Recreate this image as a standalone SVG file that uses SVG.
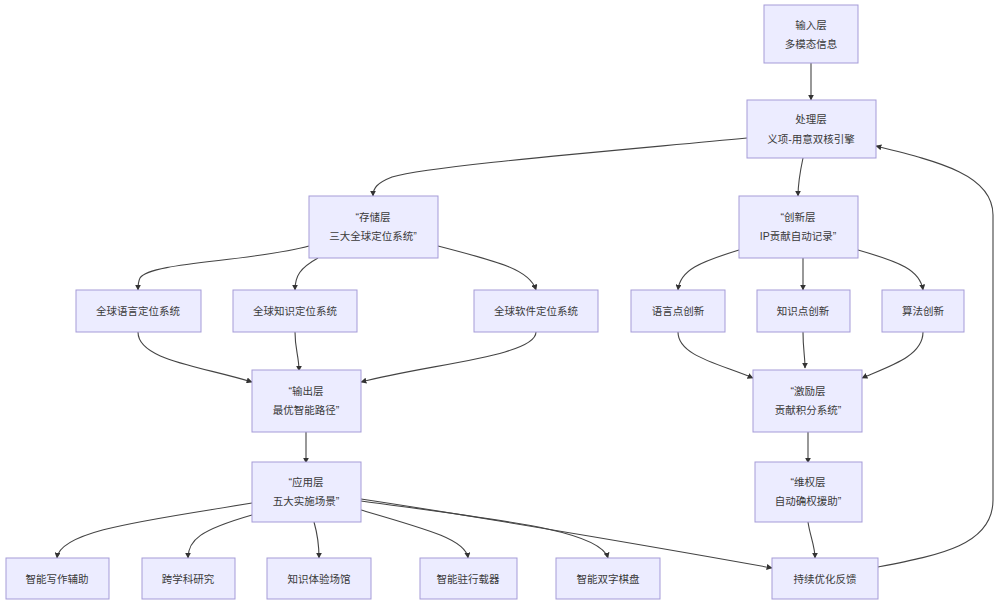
<svg xmlns="http://www.w3.org/2000/svg" width="1000" height="606" viewBox="0 0 1000 606">
<style>
.n rect{fill:#ECECFF;stroke:#a59bd8;stroke-width:1}
.n text{font-family:"Liberation Sans","Noto Sans CJK SC",sans-serif;font-size:10.5px;fill:#3a3a3a;text-anchor:middle;dominant-baseline:central}
.e path{fill:none;stroke:#444;stroke-width:1.1}
</style>
<defs>
<marker id="ah" viewBox="0 0 10 10" refX="9" refY="5" markerWidth="6" markerHeight="6" orient="auto" markerUnits="userSpaceOnUse">
<path d="M0,0 L10,5 L0,10 z" fill="#333"/>
</marker>
</defs>
<rect width="1000" height="606" fill="#fff"/>
<g class="e" marker-end="url(#ah)">
<path d="M811,63 L811,100"/>
<path d="M747,138 C600,152 430,166 392,177 C377,183 373,188 373,196"/>
<path d="M803,158 C800,172 798,184 798,196"/>
<path d="M309,246 C250,262 150,262 140,278 C138,282 138,286 138,290"/>
<path d="M318,258 C300,268 295,276 295,290"/>
<path d="M438,246 C500,262 530,270 536,290"/>
<path d="M739,250 C700,262 680,270 678,290"/>
<path d="M803,258 L803,290"/>
<path d="M858,250 C900,262 920,270 923,290"/>
<path d="M138,332 C138,360 200,366 252,382"/>
<path d="M295,332 C295,350 299,356 299,371"/>
<path d="M536,332 C536,356 430,364 361,382"/>
<path d="M678,332 C678,356 720,364 753,378"/>
<path d="M803,332 C803,350 805,356 805,368"/>
<path d="M923,332 C923,356 890,366 862,378"/>
<path d="M306,432 L306,463"/>
<path d="M808,432 L808,463"/>
<path d="M252,503 C150,520 60,530 57,558"/>
<path d="M252,515 C200,530 188,540 188,558"/>
<path d="M314,522 C318,536 319,546 319,558"/>
<path d="M361,510 C430,530 466,540 468,558"/>
<path d="M361,501 C500,520 600,530 608,558"/>
<path d="M361,499 C500,520 700,555 772,568"/>
<path d="M808,522 C810,536 815,546 815,558"/>
<path d="M878,567 C940,555 993,545 993,500 L993,215 C993,175 940,162 876,146"/>
</g>
<g id="input" class="n"><rect x="764" y="5" width="94" height="58"/><text x="811" y="25">输入层</text><text x="811" y="44">多模态信息</text></g>
<g id="process" class="n"><rect x="747" y="100" width="129" height="58"/><text x="811" y="119">处理层</text><text x="811" y="139">义项-用意双核引擎</text></g>
<g id="storage" class="n"><rect x="309" y="196" width="129" height="62"/><text x="373" y="217">“存储层</text><text x="373" y="236">三大全球定位系统”</text></g>
<g id="innov" class="n"><rect x="739" y="196" width="119" height="62"/><text x="798" y="217">“创新层</text><text x="798" y="236">IP贡献自动记录”</text></g>
<g id="gl" class="n"><rect x="76" y="290" width="125" height="42"/><text x="138" y="311">全球语言定位系统</text></g>
<g id="gk" class="n"><rect x="233" y="290" width="124" height="42"/><text x="295" y="311">全球知识定位系统</text></g>
<g id="gs" class="n"><rect x="474" y="290" width="124" height="42"/><text x="536" y="311">全球软件定位系统</text></g>
<g id="li" class="n"><rect x="631" y="290" width="94" height="42"/><text x="678" y="311">语言点创新</text></g>
<g id="ki" class="n"><rect x="757" y="290" width="93" height="42"/><text x="803" y="311">知识点创新</text></g>
<g id="ai" class="n"><rect x="882" y="290" width="82" height="42"/><text x="923" y="311">算法创新</text></g>
<g id="output" class="n"><rect x="252" y="370" width="109" height="62"/><text x="306" y="391">“输出层</text><text x="306" y="410">最优智能路径”</text></g>
<g id="incent" class="n"><rect x="753" y="370" width="109" height="62"/><text x="808" y="391">“激励层</text><text x="808" y="410">贡献积分系统”</text></g>
<g id="app" class="n"><rect x="252" y="462" width="109" height="60"/><text x="306" y="482">“应用层</text><text x="306" y="501">五大实施场景”</text></g>
<g id="rights" class="n"><rect x="755" y="462" width="107" height="60"/><text x="808" y="482">“维权层</text><text x="808" y="501">自动确权援助”</text></g>
<g id="s1" class="n"><rect x="6" y="558" width="103" height="41"/><text x="57" y="578.5">智能写作辅助</text></g>
<g id="s2" class="n"><rect x="142" y="558" width="93" height="41"/><text x="188" y="578.5">跨学科研究</text></g>
<g id="s3" class="n"><rect x="267" y="558" width="104" height="41"/><text x="319" y="578.5">知识体验场馆</text></g>
<g id="s4" class="n"><rect x="420" y="558" width="97" height="41"/><text x="468" y="578.5">智能驻行载器</text></g>
<g id="s5" class="n"><rect x="556" y="558" width="104" height="41"/><text x="608" y="578.5">智能双字棋盘</text></g>
<g id="fb" class="n"><rect x="772" y="558" width="106" height="41"/><text x="825" y="578.5">持续优化反馈</text></g>
</svg>
